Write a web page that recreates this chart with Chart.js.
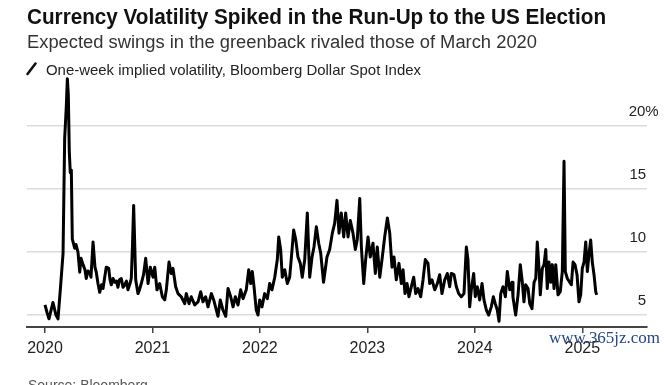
<!DOCTYPE html>
<html><head><meta charset="utf-8">
<script src="https://cdn.jsdelivr.net/npm/chart.js@4/dist/chart.umd.min.js"></script>
<style>
html,body{margin:0;padding:0;background:#fff;width:664px;height:385px;overflow:hidden;}
#wrap{position:relative;width:664px;height:385px;}
canvas{position:absolute;left:0;top:0;}
.t{position:absolute;white-space:nowrap;font-family:"Liberation Sans",Arial,Helvetica,sans-serif;transform-origin:0 0;}
</style></head><body>
<div id="wrap">
<canvas id="c" width="664" height="385"></canvas>
<div class="t fit" data-w="579" style="left:27px;top:5.7px;font-size:22px;line-height:22px;font-weight:bold;color:#111;">Currency Volatility Spiked in the Run-Up to the US Election</div>
<div class="t fit" data-w="510" style="left:27px;top:33px;font-size:18px;line-height:18px;color:#333;">Expected swings in the greenback rivaled those of March 2020</div>
<svg style="position:absolute;left:25px;top:61px;" width="14" height="16"><line x1="2.5" y1="13" x2="10.5" y2="2.5" stroke="#111" stroke-width="2.6" stroke-linecap="round"/></svg>
<div class="t fit" data-w="375" style="left:46px;top:61.5px;font-size:15px;line-height:15px;color:#222;">One-week implied volatility, Bloomberg Dollar Spot Index</div>
<div class="t fit" data-w="111" style="left:549px;top:329px;font-size:17px;line-height:17px;color:#23468a;font-family:'Liberation Serif','DejaVu Serif',serif;">www.365jz.com</div>
<div class="t" style="left:28px;top:378.4px;font-size:14px;line-height:14px;color:#555;">Source: Bloomberg</div>
</div>
<script>
// One-week implied volatility (%), Bloomberg Dollar Spot Index; dates as decimal years
const dates = [
2020.000,2020.019,2020.037,2020.074,2020.102,2020.121,2020.146,2020.168,2020.183,2020.198,
2020.208,2020.217,2020.226,2020.235,2020.245,2020.254,2020.276,2020.288,2020.307,2020.323,
2020.335,2020.354,2020.372,2020.384,2020.400,2020.416,2020.428,2020.447,2020.465,2020.477,
2020.493,2020.509,2020.526,2020.540,2020.570,2020.593,2020.605,2020.617,2020.633,2020.649,
2020.665,2020.679,2020.693,2020.710,2020.726,2020.742,2020.758,2020.772,2020.791,2020.803,
2020.814,2020.825,2020.844,2020.865,2020.879,2020.896,2020.917,2020.937,2020.959,2020.980,
2021.005,2021.021,2021.042,2021.067,2021.092,2021.114,2021.129,2021.154,2021.175,2021.191,
2021.216,2021.238,2021.268,2021.300,2021.315,2021.340,2021.361,2021.393,2021.424,2021.449,
2021.470,2021.495,2021.517,2021.548,2021.570,2021.594,2021.610,2021.631,2021.656,2021.682,
2021.703,2021.728,2021.750,2021.771,2021.796,2021.821,2021.843,2021.873,2021.896,2021.914,
2021.929,2021.945,2021.966,2021.982,2021.998,2022.019,2022.044,2022.069,2022.091,2022.112,
2022.138,2022.162,2022.175,2022.193,2022.208,2022.231,2022.255,2022.277,2022.299,2022.314,
2022.333,2022.354,2022.376,2022.394,2022.417,2022.441,2022.463,2022.485,2022.503,2022.525,
2022.547,2022.566,2022.592,2022.624,2022.649,2022.674,2022.696,2022.717,2022.736,2022.757,
2022.780,2022.798,2022.820,2022.841,2022.866,2022.888,2022.906,2022.929,2022.944,2022.966,
2022.984,2023.006,2023.027,2023.052,2023.074,2023.092,2023.115,2023.139,2023.161,2023.186,
2023.208,2023.229,2023.248,2023.269,2023.294,2023.316,2023.332,2023.350,2023.369,2023.387,
2023.409,2023.431,2023.450,2023.471,2023.496,2023.518,2023.539,2023.564,2023.580,2023.601,
2023.627,2023.651,2023.673,2023.694,2023.720,2023.744,2023.766,2023.781,2023.806,2023.828,
2023.850,2023.874,2023.899,2023.921,2023.936,2023.952,2023.967,2023.989,2024.004,2024.023,
2024.045,2024.067,2024.085,2024.107,2024.129,2024.153,2024.172,2024.190,2024.209,2024.225,
2024.241,2024.262,2024.284,2024.302,2024.325,2024.346,2024.355,2024.380,2024.402,2024.423,
2024.442,2024.457,2024.473,2024.495,2024.511,2024.532,2024.551,2024.567,2024.581,2024.597,
2024.609,2024.628,2024.644,2024.660,2024.674,2024.690,2024.706,2024.721,2024.737,2024.753,
2024.774,2024.795,2024.814,2024.830,2024.842,2024.861,2024.883,2024.898,2024.914,2024.932,
2024.951,2024.969,2024.985,2025.000,2025.016,2025.032,2025.047,2025.062,2025.078,2025.093,
2025.109,2025.125,2025.134
];
const volatility = [
5.8,5.2,4.7,6.0,5.0,4.7,7.4,9.9,19.0,21.5,
23.75,22.5,18.0,16.3,16.5,11.05,10.3,10.6,10.0,8.4,
9.5,9.0,8.6,7.9,8.5,8.4,8.0,10.8,8.8,8.4,
7.5,6.8,7.4,7.1,8.8,8.7,7.8,7.4,7.9,7.6,
7.7,7.2,7.8,7.9,7.2,7.4,7.7,7.0,7.5,7.9,
10.5,13.7,7.8,6.7,7.0,7.5,8.2,9.5,7.5,8.8,
8.0,8.8,7.0,7.5,6.45,6.2,7.0,9.2,8.3,8.7,
7.25,6.7,6.45,5.9,6.7,5.9,6.45,5.8,6.05,6.85,
6.05,6.45,5.65,6.7,6.2,5.4,4.9,6.2,5.4,4.9,
7.1,6.45,5.65,6.45,5.8,7.0,6.3,7.0,8.6,7.5,
8.45,7.25,5.4,5.0,6.2,5.65,6.7,6.3,7.5,7.0,
8.0,9.4,11.2,10.2,8.0,8.6,7.5,8.0,10.2,11.75,
11.0,9.6,9.1,8.0,9.4,13.1,8.0,9.6,10.4,12.0,
10.7,9.9,7.6,9.6,10.2,11.5,12.3,14.1,11.5,13.1,
11.2,13.1,11.2,12.5,11.5,10.2,11.0,14.25,10.4,7.5,
9.4,11.2,9.6,10.7,8.3,10.4,8.0,9.6,11.2,12.7,
11.5,8.8,9.6,7.8,9.1,7.5,8.6,6.7,7.5,6.45,
7.25,8.0,6.7,7.1,6.45,7.8,9.4,9.1,7.5,7.8,
7.0,7.5,8.2,6.7,7.8,8.3,7.25,8.3,8.2,7.25,
6.7,6.45,6.7,10.4,9.4,5.65,7.0,8.3,6.45,7.25,
6.2,7.5,6.2,5.4,5.0,5.65,6.45,5.9,5.4,4.5,
6.7,7.25,6.45,8.45,7.0,7.6,6.4,5.0,6.6,9.0,
7.6,6.05,7.4,7.1,5.9,5.5,7.6,7.9,10.8,8.7,
6.6,8.7,9.0,10.2,7.1,9.2,7.6,9.0,7.1,9.0,
6.6,6.85,8.45,17.2,8.45,7.9,7.6,7.4,9.2,9.0,
8.2,6.05,6.6,8.7,9.2,10.8,8.45,9.8,10.95,9.2,
8.2,6.85,6.6
];
const yearTicks = [2020, 2021, 2022, 2023, 2024, 2025];
const valueTicks = [5, 10, 15, 20];
const valueLabels = ['5   ', '10   ', '15   ', '20%'];

const points = dates.map((d, i) => ({x: d, y: volatility[i]}));
const FONT = '"Liberation Sans", Arial, Helvetica, sans-serif';

new Chart(document.getElementById('c'), {
  type: 'line',
  data: { datasets: [{
    data: points,
    borderColor: '#000',
    borderWidth: 3,
    pointRadius: 0,
    tension: 0,
    borderJoinStyle: 'round',
    fill: false
  }]},
  options: {
    responsive: false,
    devicePixelRatio: 1,
    animation: false,
    events: [],
    layout: { padding: { left: 27, right: 0, top: 75, bottom: 0 } },
    plugins: { legend: { display: false }, tooltip: { enabled: false } },
    scales: {
      x: {
        type: 'linear',
        min: 2019.8325,
        max: 2025.6021,
        afterBuildTicks: s => { s.ticks = yearTicks.map(v => ({value: v})); },
        afterFit: s => { s.height = 58; },
        grid: { drawOnChartArea: false, drawTicks: true, tickLength: 6, color: '#444', lineWidth: 1.5 },
        border: { display: true, color: '#444', width: 2 },
        ticks: {
          autoSkip: false, maxRotation: 0, padding: 6,
          color: '#222', font: { family: FONT, size: 16 },
          callback: v => String(v)
        }
      },
      y: {
        type: 'linear',
        position: 'right',
        min: 4.05,
        max: 24.05,
        afterBuildTicks: s => { s.ticks = valueTicks.map(v => ({value: v})); },
        afterFit: s => { s.width = 17; },
        grid: { drawTicks: false, color: '#dcdcdc', lineWidth: 1.5 },
        border: { display: false },
        ticks: {
          mirror: true, crossAlign: 'near', padding: 11.7, labelOffset: -14,
          color: '#222', font: { family: FONT, size: 15 },
          callback: v => valueLabels[valueTicks.indexOf(v)]
        }
      }
    }
  }
});

function fitTexts() {
  document.querySelectorAll('.fit').forEach(el => {
    el.style.transform = 'none';
    const w = el.getBoundingClientRect().width;
    const target = parseFloat(el.dataset.w);
    if (w > 0) el.style.transform = 'scaleX(' + (target / w).toFixed(4) + ')';
  });
}
fitTexts();
if (document.fonts && document.fonts.ready) document.fonts.ready.then(fitTexts);
</script>
</body></html>
